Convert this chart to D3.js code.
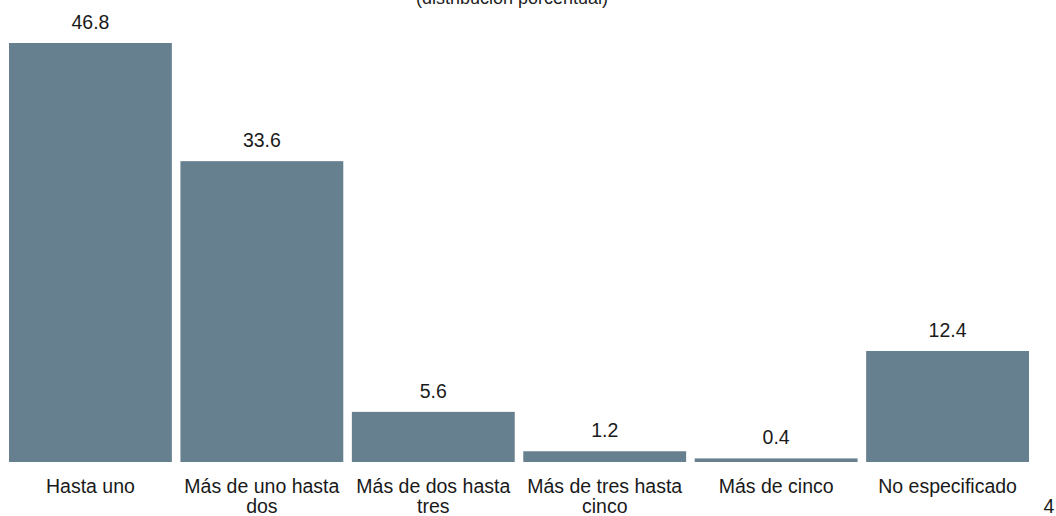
<!DOCTYPE html>
<html lang="es">
<head>
  <meta charset="utf-8">
  <title>Distribución porcentual</title>
  <style>
    body { margin: 0; background: #fff; font-family: "Liberation Sans", Arial, sans-serif; }
    svg { display: block; }
  </style>
</head>
<body>
  <div id="chart"></div>
  <script src="https://d3js.org/d3.v7.min.js"></script>
  <script>
    // data
    var categories = ["Hasta uno", "Más de uno hasta dos", "Más de dos hasta tres",
      "Más de tres hasta cinco", "Más de cinco", "No especificado"];
    var values = [46.8, 33.6, 5.6, 1.2, 0.4, 12.4];
    var subtitle = "(distribución porcentual)";
    var pageNumber = "4";

    var width = 1056, height = 516;
    var baseline = 462;

    var svg = d3.select("#chart").append("svg")
      .attr("width", width)
      .attr("height", height);

    var x = d3.scaleBand()
      .domain(categories)
      .range([9, 1029])
      .paddingInner(0.05)
      .paddingOuter(0);

    // 46.8 -> 419px tall
    var y = d3.scaleLinear()
      .domain([0, 46.8])
      .range([baseline, 43]);

    // title, mostly cut off by the top edge
    svg.append("text")
      .attr("x", 512)
      .attr("y", 4)
      .attr("text-anchor", "middle")
      .attr("font-size", 18)
      .attr("fill", "#222")
      .text(subtitle);

    svg.selectAll("rect.bar")
      .data(values)
      .enter().append("rect")
      .attr("class", "bar")
      .attr("x", function (d, i) { return x(categories[i]); })
      .attr("width", x.bandwidth())
      .attr("y", function (d) { return y(d); })
      .attr("height", function (d) { return baseline - y(d); })
      .attr("fill", "#66808f");

    svg.selectAll("text.val")
      .data(values)
      .enter().append("text")
      .attr("class", "val")
      .attr("x", function (d, i) { return x(categories[i]) + x.bandwidth() / 2; })
      .attr("y", function (d) { return y(d) - 14; })
      .attr("text-anchor", "middle")
      .attr("font-size", 19.5)
      .attr("fill", "#1a1a1a")
      .text(function (d) { return d.toFixed(1); });

    // category labels, wrapped to the bar width
    var xAxis = d3.axisBottom(x).tickSize(0).tickPadding(0);
    var gx = svg.append("g")
      .attr("transform", "translate(0," + baseline + ")")
      .call(xAxis);
    gx.select(".domain").remove();
    gx.selectAll("text")
      .attr("font-family", "Liberation Sans, Arial, sans-serif")
      .attr("font-size", 19.5)
      .attr("fill", "#1a1a1a")
      .attr("y", 31)
      .attr("dy", 0)
      .call(wrap, x.bandwidth() + 6);

    svg.append("text")
      .attr("x", 1049)
      .attr("y", 513)
      .attr("text-anchor", "middle")
      .attr("font-size", 19.5)
      .attr("fill", "#1a1a1a")
      .text(pageNumber);

    function wrap(texts, maxWidth) {
      texts.each(function () {
        var t = d3.select(this);
        var words = t.text().split(/\s+/);
        var yy = t.attr("y");
        t.text(null);
        var line = [];
        var lineNo = 0;
        var tspan = t.append("tspan").attr("x", 0).attr("y", yy).attr("dy", "0px");
        words.forEach(function (w) {
          line.push(w);
          tspan.text(line.join(" "));
          if (tspan.node().getComputedTextLength() > maxWidth && line.length > 1) {
            line.pop();
            tspan.text(line.join(" "));
            line = [w];
            lineNo++;
            tspan = t.append("tspan").attr("x", 0).attr("y", yy)
              .attr("dy", (lineNo * 20) + "px").text(w);
          }
        });
      });
    }
  </script>
</body>
</html>
